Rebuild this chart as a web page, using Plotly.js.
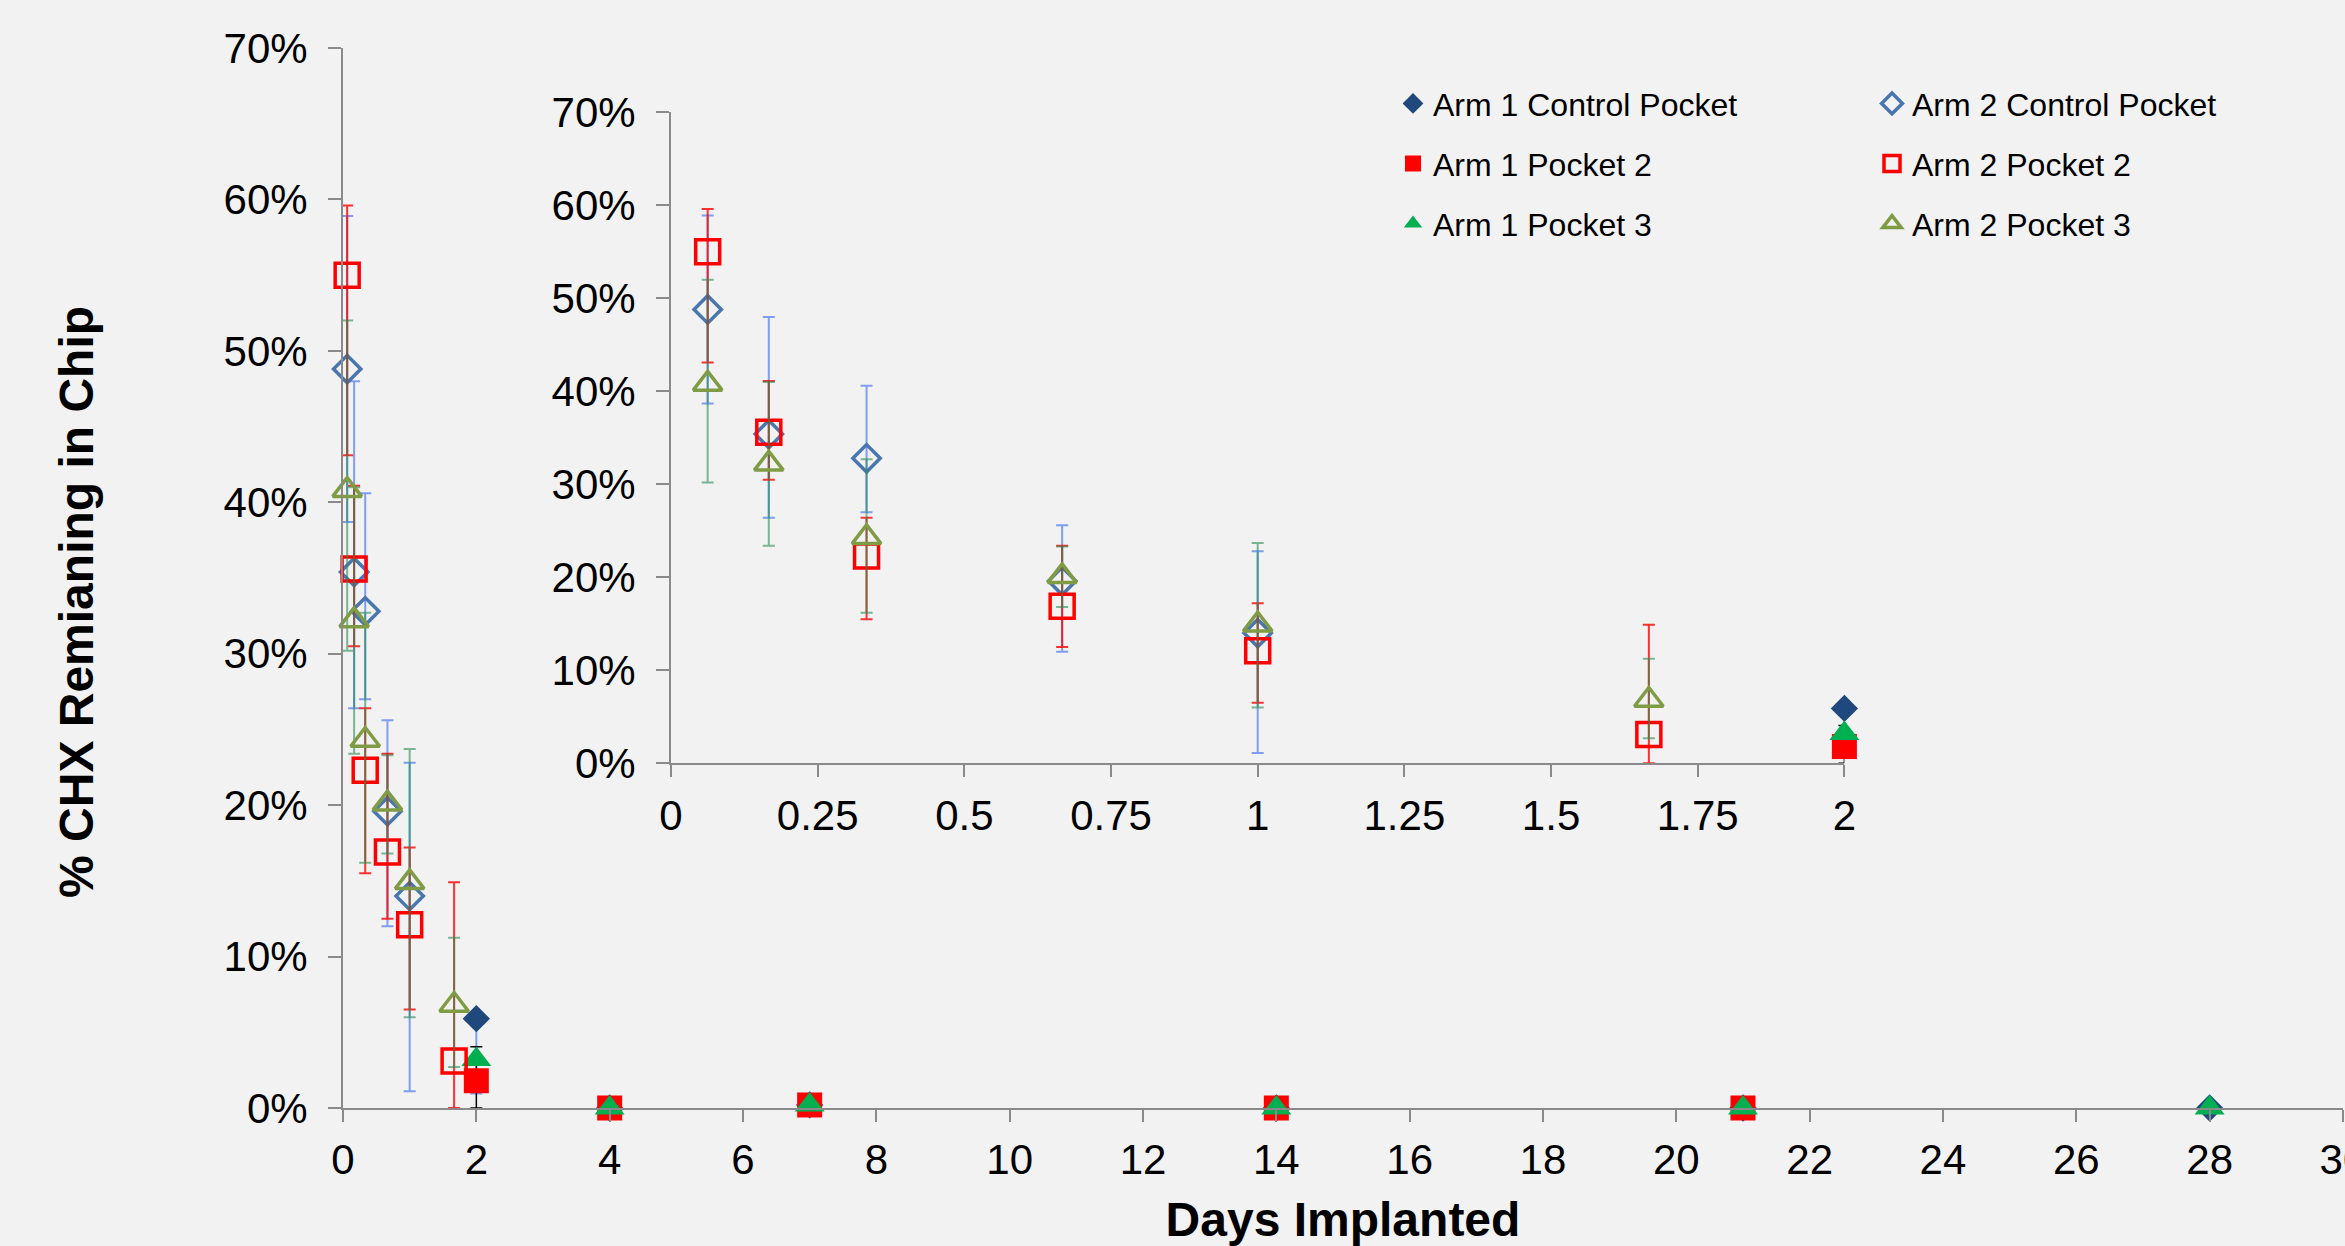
<!DOCTYPE html>
<html>
<head>
<meta charset="utf-8">
<script src="https://cdn.plot.ly/plotly-3.0.1.min.js"></script>
<style>
html, body { margin: 0; padding: 0; background: #F2F2F2; }
#chart { width: 2345px; height: 1246px; }
</style>
</head>
<body>
<div id="chart"></div>
<script>
// ---------------- data (percent of CHX remaining) ----------------
const arm2Days = [0.0625, 0.1667, 0.3333, 0.6667, 1, 1.6667];
const arm1Days = [2, 4, 7, 14, 21, 28];

const arm1Control          = [5.9, 0, 0.2, 0, 0, 0];
const arm1ControlErrPlus   = [0, 0, 0, 0, 0, 0];
const arm1ControlErrMinus  = [4.95, 0, 0, 0, 0, 0];

const arm1Pocket2          = [1.8, 0, 0.2, 0, 0, null];
const arm1Pocket2ErrPlus   = [2.25, 0, 0, 0, 0, null];
const arm1Pocket2ErrMinus  = [1.8, 0, 0, 0, 0, null];

const arm1Pocket3          = [3.2, 0, 0.2, 0, 0, 0];

const arm2Control          = [48.8, 35.4, 32.8, 19.6, 14.0, null];
const arm2ControlErrPlus   = [10.1, 12.6, 7.8, 6.0, 8.8, null];
const arm2ControlErrMinus  = [10.1, 9.0, 5.8, 7.6, 12.9, null];

const arm2Pocket2          = [55.0, 35.6, 22.3, 16.9, 12.1, 3.1];
const arm2Pocket2ErrPlus   = [4.6, 5.5, 4.1, 6.5, 5.1, 11.8];
const arm2Pocket2ErrMinus  = [11.9, 5.1, 6.8, 4.4, 5.6, 3.1];

const arm2Pocket3          = [40.8, 32.2, 24.3, 20.1, 14.9, 6.8];
const arm2Pocket3ErrPlus   = [11.2, 8.8, 8.4, 3.2, 8.8, 4.45];
const arm2Pocket3ErrMinus  = [10.6, 8.8, 8.1, 3.3, 8.9, 4.1];

// ---------------- ticks ----------------
const mainXTickVals = [0, 2, 4, 6, 8, 10, 12, 14, 16, 18, 20, 22, 24, 26, 28, 30];
const insetXTickVals = [0, 0.25, 0.5, 0.75, 1, 1.25, 1.5, 1.75, 2];
const insetXTickText = ['0', '0.25', '0.5', '0.75', '1', '1.25', '1.5', '1.75', '2'];
const yTickVals = [0, 10, 20, 30, 40, 50, 60, 70];
const yTickText = ['0%', '10%', '20%', '30%', '40%', '50%', '60%', '70%'];

// ---------------- styling ----------------
const FONT = 'Liberation Sans, Arial, sans-serif';
const AXIS_GRAY = '#8a8a8a';

const series = [
  { name: 'Arm 1 Control Pocket', x: arm1Days, y: arm1Control, ep: arm1ControlErrPlus, em: arm1ControlErrMinus,
    symbol: 'diamond', color: '#1F497D', size: 21, lw: 0, ecolor: 'rgba(64,112,240,0.65)', ew: 2, legend: 'legend' },
  { name: 'Arm 1 Pocket 2', x: arm1Days, y: arm1Pocket2, ep: arm1Pocket2ErrPlus, em: arm1Pocket2ErrMinus,
    symbol: 'square', color: '#FF0000', size: 25, lw: 0, ecolor: '#000000', ew: 1.5, legend: 'legend' },
  { name: 'Arm 1 Pocket 3', x: arm1Days, y: arm1Pocket3, ep: null, em: null,
    symbol: 'triangle-up', color: '#00B050', size: 26, lw: 0, ecolor: null, ew: 0, legend: 'legend' },
  { name: 'Arm 2 Control Pocket', x: arm2Days, y: arm2Control, ep: arm2ControlErrPlus, em: arm2ControlErrMinus,
    symbol: 'diamond-open', color: '#4A76B0', size: 21, lw: 3.5, ecolor: 'rgba(64,112,240,0.65)', ew: 2, legend: 'legend2' },
  { name: 'Arm 2 Pocket 2', x: arm2Days, y: arm2Pocket2, ep: arm2Pocket2ErrPlus, em: arm2Pocket2ErrMinus,
    symbol: 'square-open', color: '#FF0000', size: 24, lw: 3.5, ecolor: 'rgba(255,0,0,0.8)', ew: 2, legend: 'legend2' },
  { name: 'Arm 2 Pocket 3', x: arm2Days, y: arm2Pocket3, ep: arm2Pocket3ErrPlus, em: arm2Pocket3ErrMinus,
    symbol: 'triangle-up-open', color: '#7F9C45', size: 25, lw: 3.5, ecolor: 'rgba(40,140,80,0.6)', ew: 2, legend: 'legend2' }
];

function makeTrace(s, xa, ya, showlegend) {
  const t = {
    type: 'scatter', mode: 'markers', name: s.name,
    x: s.x, y: s.y, xaxis: xa, yaxis: ya,
    legend: s.legend, legendgroup: s.name, showlegend: showlegend,
    cliponaxis: false,
    marker: { symbol: s.symbol, size: s.size, color: s.color,
              line: { color: s.color, width: s.lw } },
    hoverinfo: 'x+y+name'
  };
  if (s.ep) {
    t.error_y = { type: 'data', symmetric: false, array: s.ep, arrayminus: s.em,
                  color: s.ecolor, thickness: s.ew, width: 6, visible: true };
  }
  return t;
}

const traces = [];
series.forEach(s => traces.push(makeTrace(s, 'x', 'y', true)));
series.forEach(s => traces.push(makeTrace(s, 'x2', 'y2', false)));

const tickFont = { family: FONT, size: 42, color: '#000000' };

function axisBase() {
  return {
    showline: true, linecolor: AXIS_GRAY, linewidth: 2,
    ticks: 'outside', ticklen: 13, tickwidth: 2, tickcolor: AXIS_GRAY,
    showgrid: false, zeroline: false, tickfont: tickFont, fixedrange: true
  };
}

const legendBase = {
  xanchor: 'left', yanchor: 'top',
  bgcolor: 'rgba(0,0,0,0)', borderwidth: 0,
  font: { family: FONT, size: 32, color: '#000' },
  tracegroupgap: 15.5, itemclick: false, itemdoubleclick: false
};

const layout = {
  width: 2345, height: 1246,
  paper_bgcolor: '#F2F2F2', plot_bgcolor: 'rgba(0,0,0,0)',
  margin: { l: 343, r: 2, t: 48, b: 138, pad: 0 },
  font: { family: FONT, color: '#000000' },
  showlegend: true,
  xaxis: Object.assign(axisBase(), {
    domain: [0, 1], range: [0, 30.0005], anchor: 'y',
    tickmode: 'array', tickvals: mainXTickVals, ticklen: 12,
    ticklabelstandoff: 2, ticklabeloverflow: 'allow',
    title: { text: 'Days Implanted', font: { family: FONT, size: 48, weight: 'bold', color: '#000' }, standoff: 24 }
  }),
  yaxis: Object.assign(axisBase(), {
    domain: [0, 1], range: [0, 70], anchor: 'x',
    tickmode: 'array', tickvals: yTickVals, ticktext: yTickText,
    ticklabelstandoff: 12
  }),
  xaxis2: Object.assign(axisBase(), {
    domain: [0.164, 0.7507], range: [0, 2], anchor: 'y2',
    tickmode: 'array', tickvals: insetXTickVals, ticktext: insetXTickText, ticklen: 12,
    ticklabelstandoff: 2
  }),
  yaxis2: Object.assign(axisBase(), {
    domain: [0.3252, 0.9393], range: [0, 70], anchor: 'x2',
    tickmode: 'array', tickvals: yTickVals, ticktext: yTickText,
    ticklabelstandoff: 12
  }),
  legend: Object.assign({}, legendBase, { x: 0.525, y: 0.9735 }),
  legend2: Object.assign({}, legendBase, { x: 0.7645, y: 0.9735 }),
  annotations: [{
    text: '% CHX Remianing in Chip', textangle: -90,
    xref: 'paper', yref: 'paper', x: -0.133, y: 0.4774,
    xanchor: 'center', yanchor: 'middle', showarrow: false,
    font: { family: FONT, size: 48, weight: 'bold', color: '#000' }
  }]
};

Plotly.newPlot('chart', traces, layout, { displayModeBar: false, staticPlot: true });
</script>
</body>
</html>
